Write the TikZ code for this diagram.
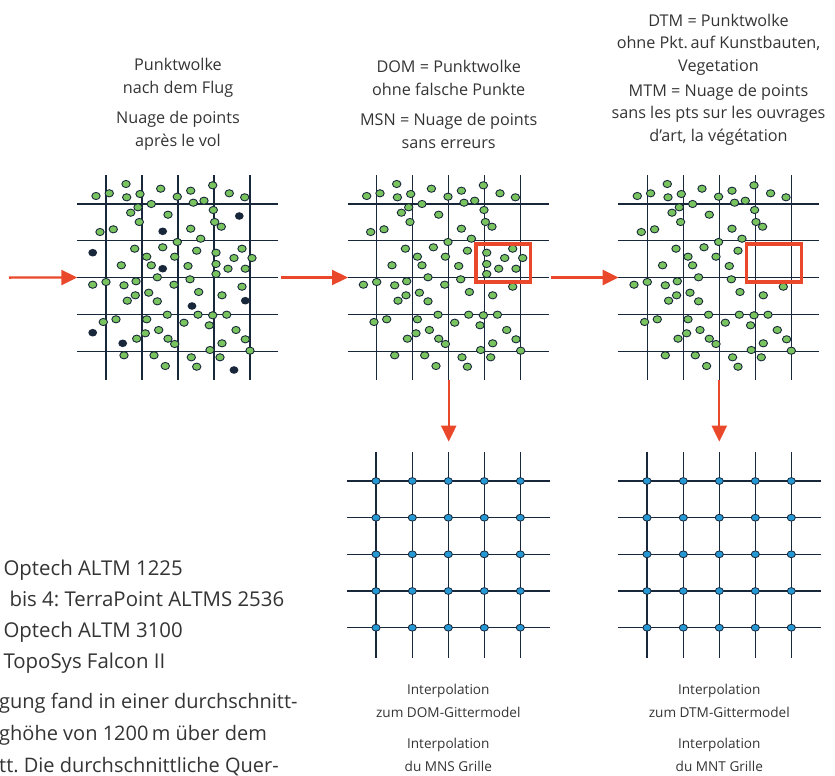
\documentclass[tikz,border=0pt]{standalone}
\usepackage{fontspec}
\setmainfont{Open Sans}
\usetikzlibrary{arrows.meta,positioning,calc}
\frenchspacing

\definecolor{netzblau}{RGB}{24,40,58}
\definecolor{pktgruen}{RGB}{122,196,96}
\definecolor{pktblau}{RGB}{38,152,212}
\definecolor{pfeilrot}{RGB}{234,72,42}
\definecolor{textgrau}{RGB}{52,52,52}

% Punkte der Wolke (Lage im ersten Raster)
\newcommand{\punkteA}{126/184, 96/196, 109.3/193.3, 126.7/197.3, 140/194, 160.7/188.7,
  177.3/196.7, 190.7/190.7, 212.7/185.3, 229.3/193.3, 244.7/197.3, 193.3/202.7,
  204/200.7, 151.3/204, 138/207.3, 130.7/212.7, 168/214.7, 213.3/210, 139.3/222,
  214.7/222, 221.3/226.7, 190.7/228.7, 100/232, 113.3/229.3, 200.7/238.7, 177.3/242,
  134.7/248.7, 162.7/247.3, 196.7/250.7, 146.7/256.7, 174.7/256.7, 121.3/265.3,
  151.3/265.3, 188/266, 157.3/277.3, 92.7/284.7, 106/282, 124/285.3, 136/281.3,
  190/279.3, 242/286.7, 148.7/292.7, 135.3/295.3, 127.3/300.7, 157.3/301.3, 198.7/292,
  222/295.3, 167.3/314.7, 198/314.7, 212.7/315.3, 226.7/314.7, 103.3/322, 116/319.3,
  146.7/319.3, 184/322.7, 209.3/325.3, 236/330, 158.7/330, 145.3/333.3, 136.7/338.7,
  168/338.7, 174.7/344, 222/343.3, 245.3/339.3, 210/350, 250/350.7, 124/355.3,
  154/355.3, 191.3/357.3, 220/357.3, 165.3/366, 196.7/366.7}
% Punkte im Rahmen (fehlen im DTM)
\newcommand{\punkteB}{216/252.7, 242/248.7, 234/258, 252/258, 216/264, 228/268.7,
  245.3/268.7, 216/274, 174/284.7}
% falsche Punkte
\newcommand{\punkteC}{239.3/216, 162.7/231.3, 92.7/252.7, 162.7/268.7, 192/306,
  245.3/300.7, 92.7/332.7, 122.7/343.3, 234/370}

\newcommand{\wolke}[2]{%
  \begin{scope}[xshift=#1pt]
    \foreach \x in {106,142,178,214,250} \draw[rasterlinie] (\x,175) -- (\x,380);
    \foreach \y in {204,240.8,277.6,314.4,351.2} \draw[rasterlinie] (77,\y) -- (278,\y);
    \foreach \x/\y in \punkteA \draw[gpunkt] (\x,\y) ellipse (4.2pt and 3.6pt);
    \node[feld, minimum height=205pt] (#2) at (178,277.5) {};
  \end{scope}}

\newcommand{\gitter}[2]{%
  \begin{scope}[xshift=#1pt]
    \foreach \x in {376,412.3,448.3,484.3,520.3} \draw[rasterlinie] (\x,451.7) -- (\x,658);
    \foreach \y in {481,517.7,554.3,591,627.7} \draw[rasterlinie] (347,\y) -- (550,\y);
    \foreach \x in {376,412.3,448.3,484.3,520.3}
      \foreach \y in {481,517.7,554.3,591,627.7}
        \draw[bpunkt] (\x,\y) ellipse (4.1pt and 3.4pt);
    \node[feld, minimum height=206pt] (#2) at (448.3,554.85) {};
  \end{scope}}

\begin{document}
\begin{tikzpicture}[x=1pt, y=-1pt,
    rasterlinie/.style={draw=netzblau, line width=1.3pt},
    gpunkt/.style={draw=netzblau, fill=pktgruen, line width=0.9pt},
    spunkt/.style={fill=netzblau},
    bpunkt/.style={draw=netzblau, fill=pktblau, line width=0.8pt},
    feld/.style={inner sep=0pt, minimum width=201pt},
    pfeil/.style={draw=pfeilrot, line width=2.3pt, -{Triangle[length=16pt, width=15pt]}},
    rahmen/.style={draw=pfeilrot, line width=3.3pt},
    titel/.style={align=center, text=textgrau, inner sep=0pt,
      font=\fontsize{16.2}{22.5}\selectfont},
    untertitel/.style={titel, font=\fontsize{13.6}{22.8}\selectfont},
    fliess/.style={align=left, text=textgrau, inner sep=0pt, anchor=north west}]
\useasboundingbox (0,0) rectangle (835,776);
\clip (0,0) rectangle (835,776);

% Punktwolke nach dem Flug
\wolke{0}{wolkeA}
\foreach \x/\y in \punkteB \draw[gpunkt] (\x,\y) ellipse (4.2pt and 3.6pt);
\foreach \x/\y in \punkteC \fill[spunkt] (\x,\y) ellipse (4.4pt and 3.8pt);

% DOM
\wolke{270.7}{wolkeB}
\begin{scope}[xshift=270.7pt]
  \foreach \x/\y in \punkteB \draw[gpunkt] (\x,\y) ellipse (4.2pt and 3.6pt);
  \draw[rahmen] (205.3,244) rectangle (260,282);
\end{scope}

% DTM
\wolke{541.3}{wolkeC}
\begin{scope}[xshift=541.3pt]
  \draw[rahmen] (205.3,244) rectangle (260,282);
\end{scope}

% Gittermodelle
\gitter{0}{gitterA}
\gitter{271}{gitterB}

% Pfeile
\coordinate (start) at (9,277.6);
\draw[pfeil] (start) -- (wolkeA.west);
\draw[pfeil, shorten <=2pt] (wolkeA.east) -- (wolkeB.west);
\draw[pfeil, shorten <=2pt] (wolkeB.east) -- (wolkeC.west);
\draw[pfeil, shorten >=10pt] (wolkeB.south) -- (wolkeB.south |- gitterA.north);
\draw[pfeil, shorten >=10pt] (wolkeC.south) -- (wolkeC.south |- gitterB.north);

% Beschriftungen oben
\node[titel] (flugDE) at (178,78) {Punktwolke\\nach dem Flug};
\node[titel] (flugFR) at (178,131) {Nuage de points\\après le vol};
\node[titel] (domDE) at (448.7,78) {DOM = Punktwolke\\ohne falsche Punkte};
\node[titel] (domFR) at (448.7,131) {MSN = Nuage de points\\sans erreurs};
\node[titel] (dtmDE) at (718.5,44.3) {DTM = Punktwolke\\ohne Pkt.\,auf Kunstbauten,\\Vegetation};
\node[titel] (dtmFR) at (718.5,114.7) {MTM = Nuage de points\\sans les pts sur les ouvrages\\d’art, la végétation};

% Beschriftungen unten
\node[untertitel] (interDOM) at (448.3,700.5) {Interpolation\\zum DOM-Gittermodel};
\node[untertitel] (interMNS) at (448.3,754.5) {Interpolation\\du MNS Grille};
\node[untertitel] (interDTM) at (719.3,700.5) {Interpolation\\zum DTM-Gittermodel};
\node[untertitel] (interMNT) at (719.3,754.5) {Interpolation\\du MNT Grille};

% Text links (abgeschnitten)
\node[fliess, font=\fontsize{20.4}{31}\selectfont] (geraete) at (3.3,560)
  {Optech ALTM 1225\\\hspace{6pt}bis 4: TerraPoint ALTMS 2536\\Optech ALTM 3100\\TopoSys Falcon II};
\node[fliess, font=\fontsize{20}{32}\selectfont] (befliegung) at (-1,693)
  {gung fand in einer durchschnitt-\\ghöhe von 1200\,m über dem\\tt. Die durchschnittliche Quer-};
\end{tikzpicture}
\end{document}
